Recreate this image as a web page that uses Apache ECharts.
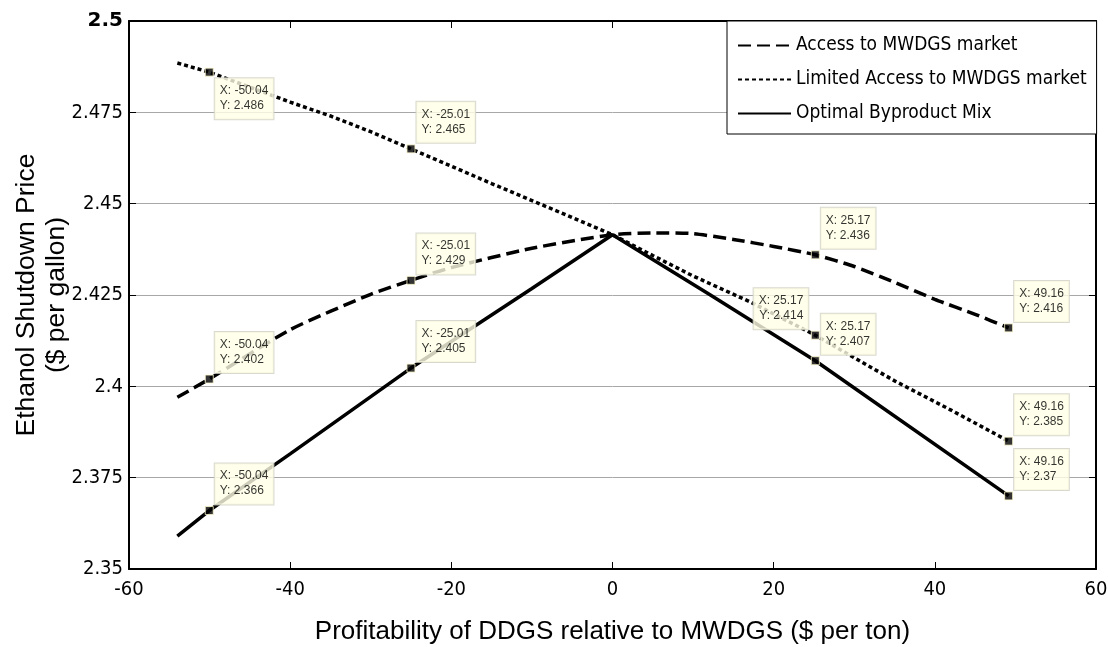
<!DOCTYPE html>
<html>
<head>
<meta charset="utf-8">
<title>Ethanol Shutdown Price</title>
<script src="https://cdn.jsdelivr.net/npm/echarts@6/dist/echarts.min.js"></script>
<style>
  html, body { margin: 0; padding: 0; background: #fff; }
  #chart { width: 1108px; height: 647px; }
</style>
</head>
<body>
<div id="chart"></div>
<script>
// Series names
const seriesNames = ['Access to MWDGS market', 'Limited Access to MWDGS market', 'Optimal Byproduct Mix'];

// Points where values are annotated
const tipX = [-50.04, -25.01, 25.17, 49.16];
const accessTipY = [2.402, 2.429, 2.436, 2.416];
const limitedTipY = [2.486, 2.465, 2.414, 2.385];
const optimalTipY = [2.366, 2.405, 2.407, 2.37];

// Remaining curve points between the annotated ones
const accessX = [-54, -40, -30, -20, -10, 0, 5, 10, 15, 20, 30, 35, 40, 45];
const accessY = [2.397, 2.4155, 2.4252, 2.4325, 2.4378, 2.4415, 2.442, 2.4418, 2.4402, 2.4383, 2.4328, 2.4285, 2.4238, 2.4197];
const limitedX = [-54, -40, -35, -30, -15, -8, 0, 5, 10, 17, 35, 42];
const limitedY = [2.4885, 2.4778, 2.474, 2.4697, 2.4555, 2.449, 2.4415, 2.4358, 2.4302, 2.4232, 2.4015, 2.3935];
const optimalX = [-54, -40, -10, 0, 12];
const optimalY = [2.359, 2.3815, 2.4268, 2.4415, 2.4252];

// Axis ticks
const xTicks = [-60, -40, -20, 0, 20, 40, 60];
const yTicks = [2.35, 2.375, 2.4, 2.425, 2.45, 2.475, 2.5];

// Merge curve points with annotated points, sorted by x
function mergePoints(xs, ys, txs, tys) {
  const pts = xs.map((x, i) => [x, ys[i]]).concat(txs.map((x, i) => [x, tys[i]]));
  pts.sort((a, b) => a[0] - b[0]);
  return pts;
}

// Data tip box placement around each marker: tr = above-right, br = below-right, tl = above-left
const tipPlacement = {
  access: ['tr', 'tr', 'tr', 'tr'],
  limited: ['br', 'tr', 'tl', 'tr'],
  optimal: ['tr', 'tr', 'tr', 'tr']
};

const narrowFont = '"DejaVu Sans", "Liberation Sans", sans-serif';
const tipFont = '"Liberation Sans", Arial, sans-serif';

function tipLabel(place) {
  const base = {
    show: true,
    formatter: p => 'X: ' + p.value[0].toFixed(2) + '\nY: ' + p.value[1],
    fontFamily: tipFont,
    fontSize: 12,
    lineHeight: 15,
    color: '#000',
    backgroundColor: '#ffffe6',
    borderColor: '#d0d0c4',
    borderWidth: 1,
    padding: [5, 5, 6, 5]
  };
  if (place === 'tr') return Object.assign(base, { position: [10, -42.5], align: 'left' });
  if (place === 'br') return Object.assign(base, { position: [10, 10.5], align: 'left' });
  return Object.assign(base, { position: [-2.5, -42.5], align: 'right' });
}

function tipSeries(tys, places) {
  return {
    type: 'scatter',
    symbol: 'rect',
    symbolSize: 8,
    z: 5,
    silent: true,
    itemStyle: { color: '#000', borderColor: '#fffad0', borderWidth: 1 },
    data: tipX.map((x, i) => ({ value: [x, tys[i]], label: tipLabel(places[i]) }))
  };
}

function fmtY(v) {
  const s = String(parseFloat(v.toFixed(3)));
  return v === yTicks[yTicks.length - 1] ? '{top|' + s + '}' : s;
}

const chart = echarts.init(document.getElementById('chart'), null, { renderer: 'canvas' });

const axisLineStyle = { show: true, onZero: false, lineStyle: { color: '#000', width: 2 } };
const tickStyle = { show: true, inside: true, length: 7, lineStyle: { color: '#000', width: 1 } };

chart.setOption({
  animation: false,
  backgroundColor: '#fff',
  grid: { left: 129, right: 12, top: 21, bottom: 78, containLabel: false, outerBoundsMode: 'none' },
  legend: {
    data: seriesNames,
    orient: 'vertical',
    left: 727,
    top: 21,
    backgroundColor: '#fff',
    borderColor: '#000',
    borderWidth: 1,
    borderRadius: 0,
    padding: [15, 10, 11, 10],
    itemWidth: 53,
    itemHeight: 14,
    itemGap: 15,
    selectedMode: false,
    itemStyle: { opacity: 0 },
    textStyle: { fontFamily: narrowFont, fontWeight: 'condensed', fontSize: 19, color: '#000', width: 290 }
  },
  xAxis: [{
    type: 'value',
    min: xTicks[0],
    max: xTicks[xTicks.length - 1],
    interval: 20,
    name: 'Profitability of DDGS relative to MWDGS ($ per ton)',
    nameLocation: 'middle',
    nameGap: 50,
    nameMoveOverlap: false,
    nameTextStyle: { fontFamily: tipFont, fontSize: 26, color: '#000' },
    axisLine: axisLineStyle,
    axisTick: tickStyle,
    splitLine: { show: false },
    axisLabel: { fontFamily: narrowFont, fontWeight: 'condensed', fontSize: 20, color: '#000', margin: 11 }
  }, {
    type: 'value',
    position: 'top',
    min: xTicks[0],
    max: xTicks[xTicks.length - 1],
    interval: 20,
    axisLine: axisLineStyle,
    axisTick: tickStyle,
    axisLabel: { show: false },
    splitLine: { show: false }
  }],
  yAxis: [{
    type: 'value',
    min: yTicks[0],
    max: yTicks[yTicks.length - 1],
    interval: 0.025,
    name: 'Ethanol Shutdown Price\n($ per gallon)',
    nameLocation: 'middle',
    nameRotate: 90,
    nameGap: 57,
    nameMoveOverlap: false,
    nameTextStyle: { fontFamily: tipFont, fontSize: 26.5, color: '#000', lineHeight: 30 },
    axisLine: axisLineStyle,
    axisTick: tickStyle,
    splitLine: { show: true, lineStyle: { color: '#a8a8a8', width: 1 } },
    axisLabel: {
      fontFamily: narrowFont, fontWeight: 'condensed', fontSize: 20, color: '#000', margin: 6,
      formatter: fmtY,
      rich: { top: { fontFamily: narrowFont, fontSize: 20, fontWeight: 'bold', color: '#000' } }
    }
  }, {
    type: 'value',
    position: 'right',
    min: yTicks[0],
    max: yTicks[yTicks.length - 1],
    interval: 0.025,
    axisLine: axisLineStyle,
    axisTick: tickStyle,
    axisLabel: { show: false },
    splitLine: { show: false }
  }],
  series: [
    {
      name: seriesNames[0],
      type: 'line',
      symbol: 'none',
      smooth: 0.2,
      lineStyle: { color: '#000', width: 3.5, type: [13, 6], cap: 'butt' },
      itemStyle: { color: '#000' },
      data: mergePoints(accessX, accessY, tipX, accessTipY)
    },
    {
      name: seriesNames[1],
      type: 'line',
      symbol: 'none',
      lineStyle: { color: '#000', width: 3.5, type: [4, 3], cap: 'butt' },
      itemStyle: { color: '#000' },
      data: mergePoints(limitedX, limitedY, tipX, limitedTipY)
    },
    {
      name: seriesNames[2],
      type: 'line',
      symbol: 'none',
      lineStyle: { color: '#000', width: 3.5, type: 'solid' },
      itemStyle: { color: '#000' },
      data: mergePoints(optimalX, optimalY, tipX, optimalTipY)
    },
    tipSeries(accessTipY, tipPlacement.access),
    tipSeries(limitedTipY, tipPlacement.limited),
    tipSeries(optimalTipY, tipPlacement.optimal)
  ]
});
</script>
</body>
</html>
